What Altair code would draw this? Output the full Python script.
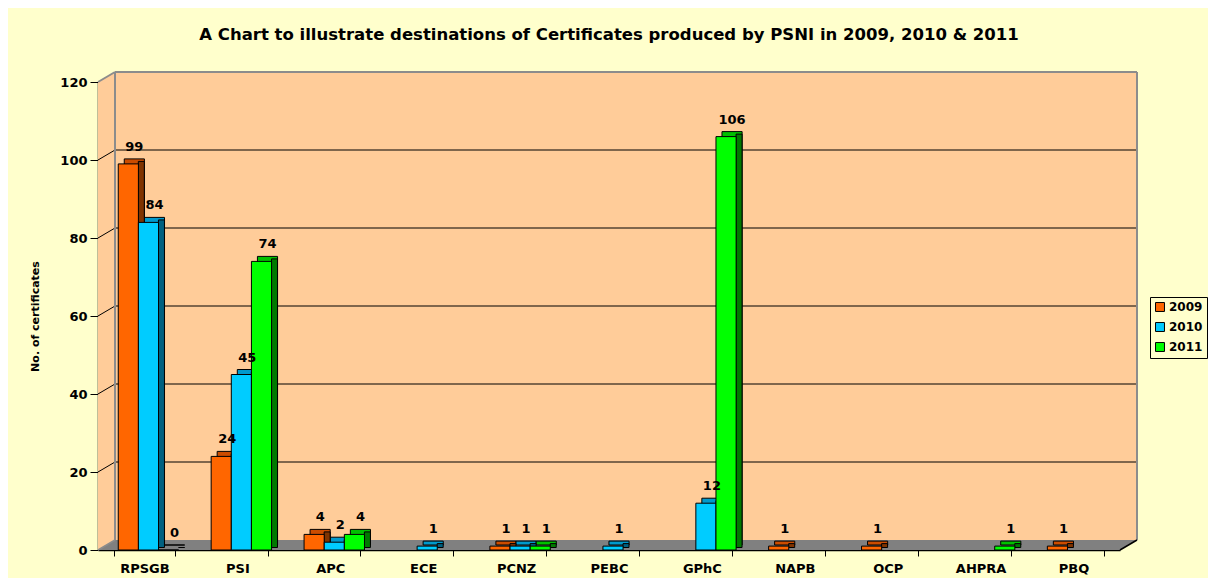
import altair as alt
import pandas as pd

# ---- data ----
categories = ["RPSGB", "PSI", "APC", "ECE", "PCNZ", "PEBC", "GPhC", "NAPB", "OCP", "AHPRA", "PBQ"]
years = ["2009", "2010", "2011"]
v2009 = [99, 24, 4, None, 1, None, None, 1, 1, None, 1]
v2010 = [84, 45, 2, 1, 1, 1, 12, None, None, None, None]
v2011 = [0, 74, 4, None, 1, None, 106, None, None, 1, None]
y_ticks = [0, 20, 40, 60, 80, 100, 120]

front_colors = ["#FF6600", "#00CCFF", "#00FF00"]
top_colors = ["#CC4C00", "#0099CC", "#00C000"]
side_colors = ["#7F3300", "#006080", "#007A00"]

rows = []
for yr, vals in zip(years, [v2009, v2010, v2011]):
    for c, v in zip(categories, vals):
        if v is not None:
            rows.append({"cat": c, "year": yr, "value": v})
df = pd.DataFrame(rows)

W, H = 1022, 468
DX, DY = 17, 10
FONT = "DejaVu Sans"
BW = 60.4          # width of the three-bar group inside a category band
SHIFT = 4          # group sits a little right of band centre (3D look)
SUB = BW / 3       # width of one bar

# ---- decorations (walls / floor) ----
wall_df = pd.DataFrame({"px": [0, DX, W + DX], "py": [0, -DY, -DY], "py2": [H, H - DY, H - DY]})
floor_df = pd.DataFrame({"px": [0, DX, W, W + DX], "py": [H, H - DY, H - DY, H - DY], "py2": [H, H, H, H - DY]})
one = pd.DataFrame({"k": [0]})

wall = alt.Chart(wall_df).mark_area(color="#FFCC99").encode(
    x=alt.X("px:Q", scale=None, axis=None),
    y=alt.Y("py:Q", scale=None, axis=None),
    y2="py2:Q",
)
floor = alt.Chart(floor_df).mark_area(color="#808080").encode(
    x=alt.X("px:Q", scale=None, axis=None),
    y=alt.Y("py:Q", scale=None, axis=None),
    y2="py2:Q",
)

def seg(x1, y1, x2, y2, color, width):
    return alt.Chart(one).mark_rule(color=color, strokeWidth=width).encode(
        x=alt.value(x1), y=alt.value(y1), x2=alt.value(x2), y2=alt.value(y2)
    )

gray = "#8C8C8C"
borders = [
    seg(0, 0, DX, -DY, gray, 2),
    seg(DX, -DY, W + DX, -DY, gray, 2),
    seg(W + DX, -DY, W + DX, H - DY, gray, 2),
    seg(DX, -DY, DX, H - DY, gray, 2),
    seg(0, H, DX, H - DY, gray, 1.5),
    seg(W, H, W + DX, H - DY, "black", 1.5),
]

grid_df = pd.DataFrame({"v": [t for t in y_ticks if 0 < t < 120]})
yscale = alt.Scale(domain=[0, 120])
grid_h = alt.Chart(grid_df).mark_rule(color="black", strokeWidth=1, yOffset=-DY).encode(
    y=alt.Y("v:Q", scale=yscale, axis=None),
    x=alt.value(DX), x2=alt.value(W + DX),
)
grid_d = alt.Chart(grid_df).mark_rule(color="black", strokeWidth=1, y2Offset=-DY).encode(
    y=alt.Y("v:Q", scale=yscale, axis=None),
    y2="v:Q",
    x=alt.value(0), x2=alt.value(DX),
)

# ---- bars ----
xscale = alt.Scale(domain=categories, paddingInner=0.35, paddingOuter=0.175)

def xoff(shift):
    return alt.XOffset("year:N", scale=alt.Scale(domain=years, range=[shift, shift + BW],
                                                  paddingInner=0, paddingOuter=0))

def xenc(axis=None):
    return alt.X("cat:N", scale=xscale, sort=categories, axis=axis)

base = alt.Chart(df)

top_layer = base.mark_bar(stroke="black", strokeWidth=1, yOffset=-5, y2Offset=-5).encode(
    x=xenc(), xOffset=xoff(SHIFT + 6),
    y=alt.Y("value:Q", scale=yscale, axis=None),
    color=alt.Color("year:N", scale=alt.Scale(domain=years, range=top_colors), legend=None),
)
side_layer = base.mark_bar(stroke="black", strokeWidth=1, width=6, yOffset=-2.5, y2Offset=-2.5).encode(
    x=xenc(), xOffset=xoff(SHIFT + 13),
    y=alt.Y("value:Q", scale=yscale, axis=None),
    color=alt.Color("year:N", scale=alt.Scale(domain=years, range=side_colors), legend=None),
)
front_layer = base.mark_bar(stroke="black", strokeWidth=1).encode(
    x=xenc(alt.Axis(title=None, labelAngle=0, tickBand="extent", tickSize=6, tickColor="black",
                    domainColor="black", domainWidth=1.5, labelPadding=6, labelFont=FONT,
                    labelFontSize=13, labelFontWeight="bold", labelColor="black", grid=False)),
    xOffset=xoff(SHIFT),
    y=alt.Y("value:Q", scale=yscale,
            axis=alt.Axis(values=y_ticks, tickSize=8, tickColor="black", domainColor="black",
                          domainWidth=1.5, labelPadding=3, labelFont=FONT, labelFontSize=13,
                          labelFontWeight="bold", labelColor="black", grid=False,
                          title="No. of certificates", titleFont=FONT, titleFontSize=11,
                          titleFontWeight="bold", titleColor="black", titlePadding=19)),
    color=alt.Color("year:N", scale=alt.Scale(domain=years, range=front_colors),
                    legend=alt.Legend(title=None, orient="none", legendX=1052, legendY=215,
                                      fillColor="#FFFFCC", strokeColor="black", padding=4,
                                      symbolType="square", symbolSize=80, symbolStrokeColor="black",
                                      symbolStrokeWidth=1, labelFont=FONT, labelFontSize=12,
                                      labelFontWeight="bold", labelColor="black", rowPadding=6,
                                      labelOffset=3)),
)
labels = base.mark_text(font=FONT, fontSize=13, fontWeight="bold", color="black",
                        baseline="bottom", dx=6, dy=-10).encode(
    x=xenc(),
    xOffset=alt.XOffset("year:N", scale=alt.Scale(type="point", domain=years,
                                                  range=[SHIFT + SUB / 2, SHIFT + BW - SUB / 2],
                                                  padding=0)),
    y=alt.Y("value:Q", scale=yscale, axis=None),
    text=alt.Text("value:Q"),
)

chart = alt.layer(
    wall, floor, grid_h, grid_d, *borders, top_layer, side_layer, front_layer, labels
).resolve_scale(
    x="independent", y="independent", color="independent", xOffset="independent"
).properties(
    width=W, height=H,
    padding={"left": 90, "top": 74, "right": 88, "bottom": 28},
    autosize=alt.AutoSizeParams(type="none"),
    background="#FFFFCC",
    title=alt.Title("A Chart to illustrate destinations of Certificates produced by PSNI in 2009, 2010 & 2011",
                    font=FONT, fontSize=16.5, fontWeight="bold", color="black", anchor="middle", offset=28),
).configure_view(stroke=None)

chart.save("out.html", embed_options={"renderer": "svg", "actions": False})
